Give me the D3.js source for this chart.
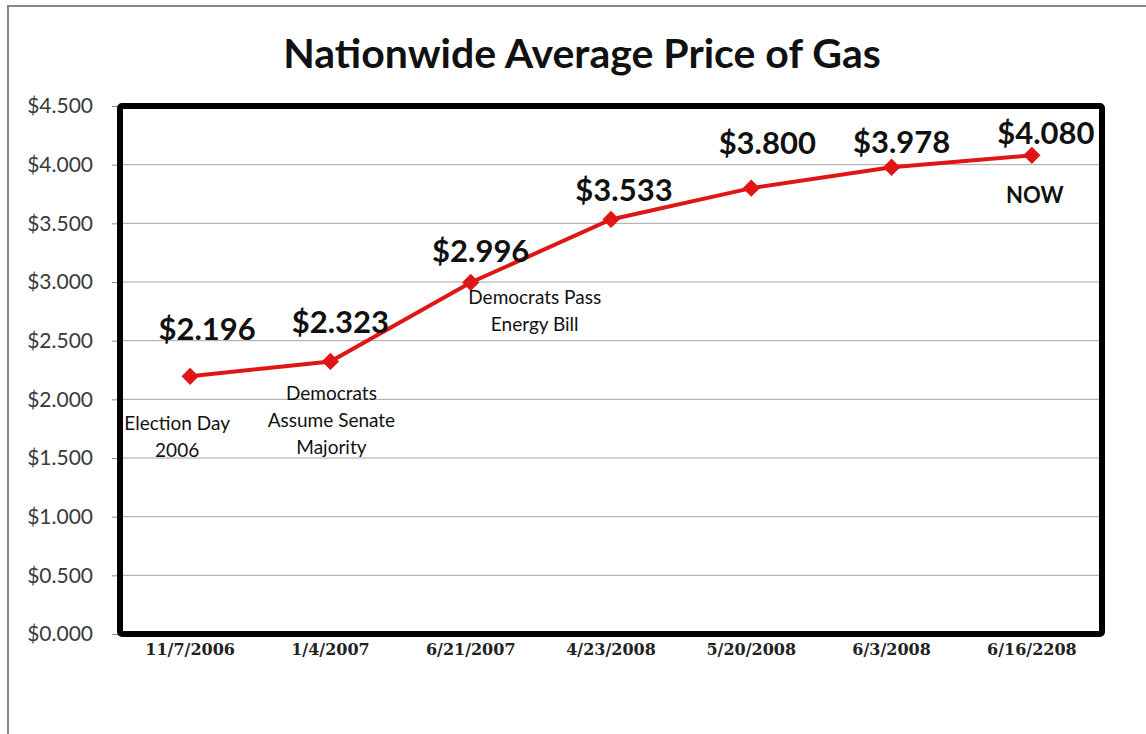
<!DOCTYPE html>
<html>
<head>
<meta charset="utf-8">
<script src="https://cdn.jsdelivr.net/npm/d3@7"></script>
<style>
  body { margin: 0; background: #fff; }
</style>
</head>
<body>
<div id="chart"></div>
<script>
// values
const dates = ["11/7/2006", "1/4/2007", "6/21/2007", "4/23/2008", "5/20/2008", "6/3/2008", "6/16/2208"];
const prices = [2.196, 2.323, 2.996, 3.533, 3.800, 3.978, 4.080];
const notes = [["Election Day", "2006"], ["Democrats", "Assume Senate", "Majority"], ["Democrats Pass", "Energy Bill"], [], [], [], ["NOW"]];
const yTicks = [0, 0.5, 1, 1.5, 2, 2.5, 3, 3.5, 4, 4.5];

// hand placed nudges of the labels, relative to each point
const labelNudge = [[17, -36], [10, -28], [10, -20], [13, -18], [16, -34], [10, -14], [14, -11]];
const noteNudge = [[-13, 54], [1, 39], [64, 22], [0, 0], [0, 0], [0, 0], [3, 48]];

var margin = {top: 106, right: 44, bottom: 100, left: 120},
    width = 1146 - margin.left - margin.right,
    height = 734 - margin.top - margin.bottom;

var svg = d3.select("#chart")
  .append("svg")
  .attr("width", 1146)
  .attr("height", 734);

// outer frame of the chart area
svg.append("path")
  .attr("d", "M8,740 L8,6 L1150,6")
  .attr("fill", "none")
  .style("stroke", "#878787")
  .style("stroke-width", 2);

svg.append("text")
  .attr("x", 582)
  .attr("y", 68)
  .attr("text-anchor", "middle")
  .attr("font-family", "Lato")
  .attr("font-weight", "bold")
  .attr("font-size", 41)
  .attr("fill", "#111")
  .text("Nationwide Average Price of Gas");

var g = svg.append("g")
  .attr("transform", "translate(" + margin.left + "," + margin.top + ")");

const x = d3.scaleBand()
  .domain(dates)
  .range([0, width]);

const y = d3.scaleLinear()
  .domain([0, 4.5])
  .range([height, 0]);

// gridlines
g.append("g")
  .selectAll("line")
  .data(yTicks.slice(1, -1))
  .enter()
  .append("line")
  .attr("x1", 0)
  .attr("x2", width)
  .attr("y1", d => y(d))
  .attr("y2", d => y(d))
  .style("stroke", "#a6a6a6")
  .style("stroke-width", 1);

// y axis
var yAxis = g.append("g")
  .call(d3.axisLeft(y)
    .tickValues(yTicks)
    .tickSize(8)
    .tickPadding(19)
    .tickFormat(d3.format("$.3f")));
yAxis.select(".domain").remove();
yAxis.selectAll("line").style("stroke", "#8c8c8c");
yAxis.selectAll("text")
  .attr("font-family", "Lato")
  .attr("font-size", 21)
  .attr("fill", "#3a3a3a");

// x axis labels
var xAxis = g.append("g")
  .attr("transform", "translate(0," + height + ")")
  .call(d3.axisBottom(x).tickSize(0).tickPadding(10));
xAxis.select(".domain").remove();
xAxis.selectAll("text")
  .attr("font-family", "DejaVu Serif")
  .attr("font-weight", "bold")
  .attr("font-size", 16)
  .attr("fill", "#222");

// thick plot border
g.append("rect")
  .attr("x", 0)
  .attr("y", 0)
  .attr("width", width)
  .attr("height", height)
  .attr("fill", "none")
  .style("stroke", "#000")
  .style("stroke-width", 6)
  .attr("rx", 2);

const cx = d => x(d) + x.bandwidth() / 2;
const points = dates.map((d, i) => ({date: d, price: prices[i], i: i}));

const line = d3.line()
  .x(d => cx(d.date))
  .y(d => y(d.price));

g.append("path")
  .datum(points)
  .attr("d", line)
  .attr("fill", "none")
  .style("stroke", "#e01515")
  .style("stroke-width", 4);

g.selectAll(".marker")
  .data(points)
  .enter()
  .append("path")
  .attr("class", "marker")
  .attr("transform", d => "translate(" + cx(d.date) + "," + y(d.price) + ")")
  .attr("d", d3.symbol(d3.symbolDiamond2, 190))
  .attr("fill", "#e01515");

// value labels
g.selectAll(".value")
  .data(points)
  .enter()
  .append("text")
  .attr("class", "value")
  .attr("x", d => cx(d.date) + labelNudge[d.i][0])
  .attr("y", d => y(d.price) + labelNudge[d.i][1])
  .attr("text-anchor", "middle")
  .attr("font-family", "Lato")
  .attr("font-weight", "bold")
  .attr("font-size", 31)
  .attr("fill", "#111")
  .text(d => d3.format("$.3f")(d.price));

// annotations under the points
points.forEach(d => {
  var isNow = notes[d.i][0] == "NOW";
  var t = g.append("text")
    .attr("text-anchor", "middle")
    .attr("font-family", "Lato")
    .attr("font-size", isNow ? 22 : 19)
    .attr("font-weight", isNow ? "bold" : "normal")
    .attr("fill", "#111");
  notes[d.i].forEach((line, k) => {
    t.append("tspan")
      .attr("x", cx(d.date) + noteNudge[d.i][0])
      .attr("y", y(d.price) + noteNudge[d.i][1] + k * 27)
      .text(line);
  });
});
</script>
</body>
</html>
